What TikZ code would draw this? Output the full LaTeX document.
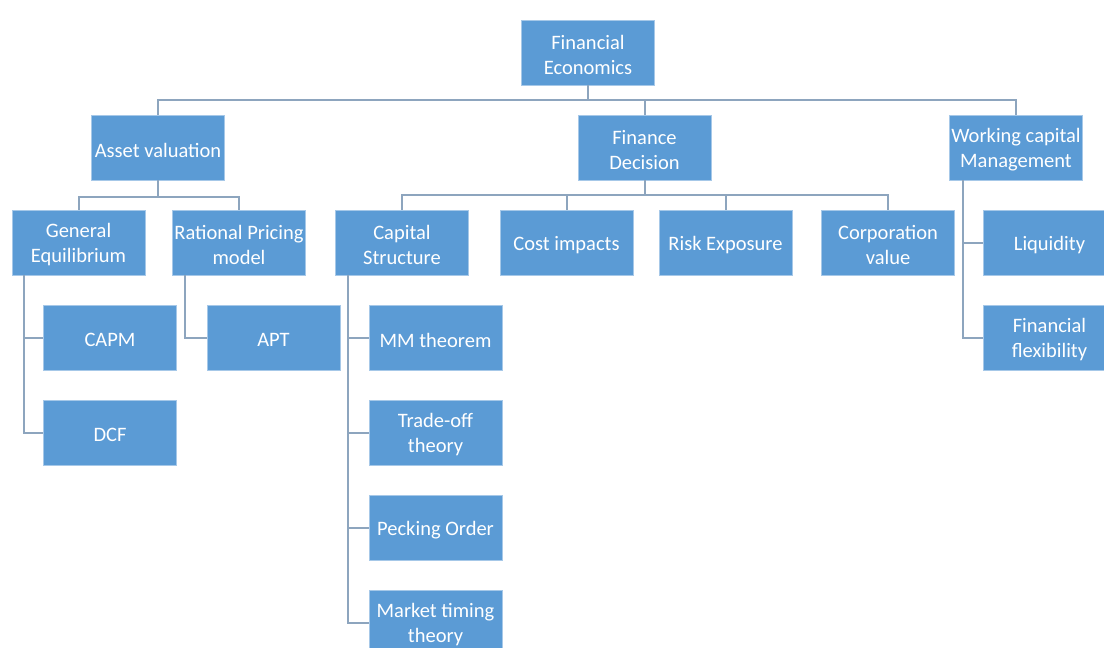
\documentclass[tikz,border=0pt]{standalone}
\usepackage{fontspec}
\setmainfont{Carlito}
\definecolor{boxblue}{HTML}{5B9BD5}
\definecolor{boxedge}{HTML}{A6C8E8}
\definecolor{linecol}{HTML}{8DA5BE}
\begin{document}
\begin{tikzpicture}[x=1pt,y=-1pt,
  box/.style={rectangle, fill=boxblue, draw=boxedge, line width=0.8pt,
    minimum width=133pt, minimum height=65pt, inner sep=0pt,
    label={[boxtext]center:#1}},
  boxtext/.style={align=center, text=white, inner sep=0pt, yshift=-2.5pt,
    font=\fontsize{20.5}{25}\selectfont},
  conn/.style={draw=linecol, line width=2pt}]
\useasboundingbox (0,0) rectangle (1104,648);
\clip (0,0) rectangle (1104,648);
% nodes
\node[box={Financial\\Economics}] (root) at (588,52.5) {};
\node[box={Asset valuation}] (av) at (158,147.5) {};
\node[box={Finance\\Decision}] (fd) at (644.5,147.5) {};
\node[box={Working capital\\Management}] (wcm) at (1016,147.5) {};
\node[box={General\\Equilibrium}] (ge) at (78.5,242.5) {};
\node[box={Rational Pricing\\model}] (rp) at (239,242.5) {};
\node[box={Capital\\Structure}] (cs) at (402,242.5) {};
\node[box={Cost impacts}] (ci) at (566.5,242.5) {};
\node[box={Risk Exposure}] (re) at (725.5,242.5) {};
\node[box={Corporation\\value}] (cv) at (888,242.5) {};
\node[box={Liquidity}] (liq) at (1049.5,242.5) {};
\node[box={Financial\\flexibility}] (ff) at (1049.5,337.5) {};
\node[box={CAPM}] (capm) at (110,337.5) {};
\node[box={DCF}] (dcf) at (110,432.5) {};
\node[box={APT}] (apt) at (273.5,337.5) {};
\node[box={MM theorem}] (mm) at (435.5,337.5) {};
\node[box={Trade-off\\theory}] (to) at (435.5,432.5) {};
\node[box={Pecking Order}] (po) at (435.5,527.5) {};
\node[box={Market timing\\theory}] (mt) at (435.5,622.5) {};
% level 1 connectors
\draw[conn] (root.south) -- (root.south |- 0,100) -| (av.north);
\draw[conn] (root.south |- 0,100) -| (fd.north);
\draw[conn] (root.south |- 0,100) -| (wcm.north);
% asset valuation
\draw[conn] (av.south) -- (av.south |- 0,196.5) -| (ge.north);
\draw[conn] (av.south |- 0,196.5) -| (rp.north);
% finance decision
\draw[conn] (fd.south) -- (fd.south |- 0,195) -| (cs.north);
\draw[conn] (fd.south |- 0,195) -| (ci.north);
\draw[conn] (fd.south |- 0,195) -| (re.north);
\draw[conn] (fd.south |- 0,195) -| (cv.north);
% side children
\draw[conn] (ge.south -| 24,0) |- (capm.west);
\draw[conn] (ge.south -| 24,0) |- (dcf.west);
\draw[conn] (rp.south -| 185,0) |- (apt.west);
\draw[conn] (cs.south -| 348,0) |- (mm.west);
\draw[conn] (cs.south -| 348,0) |- (to.west);
\draw[conn] (cs.south -| 348,0) |- (po.west);
\draw[conn] (cs.south -| 348,0) |- (mt.west);
\draw[conn] (wcm.south -| 963,0) |- (liq.west);
\draw[conn] (wcm.south -| 963,0) |- (ff.west);
\end{tikzpicture}
\end{document}
